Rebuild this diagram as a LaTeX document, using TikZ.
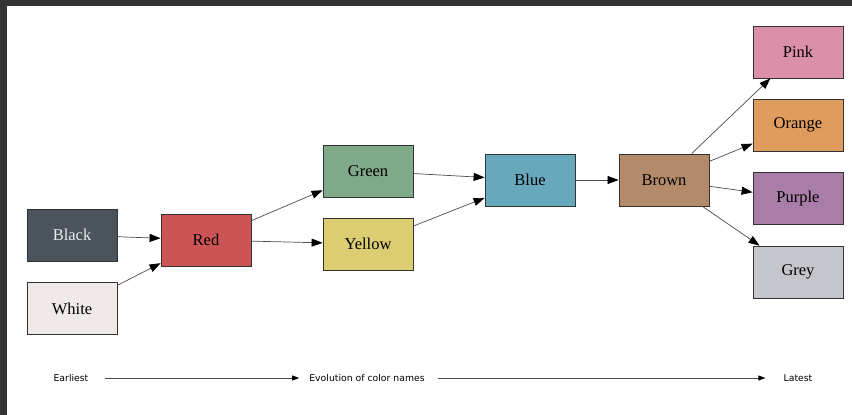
\documentclass[tikz,border=0pt]{standalone}
\usepackage{fontspec}
\setmainfont{Liberation Serif}
\newfontfamily\axisfont{DejaVu Sans}
\usepackage{tikz}
\usetikzlibrary{arrows.meta}

\definecolor{frame}{HTML}{333333}
\definecolor{edge}{HTML}{4A4A4A}
\definecolor{cBlack}{HTML}{4B545C}
\definecolor{cWhite}{HTML}{EFEAE7}
\definecolor{cRed}{HTML}{CD5454}
\definecolor{cGreen}{HTML}{80A98A}
\definecolor{cYellow}{HTML}{DCCD73}
\definecolor{cBlue}{HTML}{67A8BD}
\definecolor{cBrown}{HTML}{B48B6A}
\definecolor{cPink}{HTML}{DC8FA9}
\definecolor{cOrange}{HTML}{DF9C5C}
\definecolor{cPurple}{HTML}{A87DA8}
\definecolor{cGrey}{HTML}{C5C6CB}

\begin{document}
\begin{tikzpicture}[x=1pt,y=-1pt]
\tikzstyle{box}=[rectangle, draw=frame, line width=0.8pt, minimum width=90pt, minimum height=52pt, inner sep=0pt, font=\fontsize{16.5}{18}\selectfont]
\tikzstyle{link}=[draw=edge, line width=0.7pt, -{Triangle[length=11pt,width=8pt,fill=black,color=black]}]
\tikzstyle{tag}=[inner sep=0pt, font=\axisfont\fontsize{9.3}{11}\selectfont]
\tikzstyle{axis}=[draw=edge, line width=0.8pt, -{Triangle[length=7pt,width=5pt,fill=black,color=black]}]
\useasboundingbox (0,0) rectangle (852,415);
\fill[white] (0,0) rectangle (852,415);
% dark frame
\fill[frame] (0,0) rectangle (852,6);
\fill[frame] (0,0) rectangle (7,415);
%1
\node[box, fill=cBlack, text=white!92!black] (black) at (72,235) {Black};
\node[box, fill=cWhite] (white) at (72,308.5) {White};
%2
\node[box, fill=cRed] (red) at (206,240) {Red};
%3
\node[box, fill=cGreen] (green) at (368,171) {Green};
\node[box, fill=cYellow] (yellow) at (368,244) {Yellow};
%4
\node[box, fill=cBlue] (blue) at (530,180) {Blue};
\node[box, fill=cBrown] (brown) at (664,180) {Brown};
%5
\node[box, fill=cPink] (pink) at (798,52) {Pink};
\node[box, fill=cOrange] (orange) at (798,125) {Orange};
\node[box, fill=cPurple] (purple) at (798,198.5) {Purple};
\node[box, fill=cGrey] (grey) at (798,272) {Grey};
% links
\draw[link] (black) -- (red);
\draw[link] (white) -- (red);
\draw[link] (red) -- (green);
\draw[link] (red) -- (yellow);
\draw[link] (green) -- (blue);
\draw[link] (yellow) -- (blue);
\draw[link] (blue) -- (brown);
\draw[link] (brown) -- (pink);
\draw[link] (brown) -- (orange);
\draw[link] (brown) -- (purple);
\draw[link] (brown) -- (grey);
% time line
\node[tag] (earliest) at (71,378) {Earliest};
\node[tag] (evolution) at (367,378) {Evolution of color names};
\node[tag] (latest) at (798,378) {Latest};
\draw[axis, shorten <=16pt, shorten >=10pt] (earliest) -- (evolution);
\draw[axis, shorten <=13pt, shorten >=18pt] (evolution) -- (latest);
\end{tikzpicture}
\end{document}
